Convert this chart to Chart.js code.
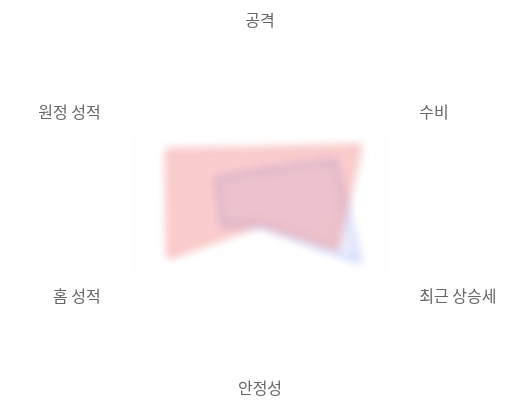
<!DOCTYPE html>
<html lang="ko">
<head>
<meta charset="utf-8">
<title>팀 분석</title>
<script src="https://cdn.jsdelivr.net/npm/chart.js@4/dist/chart.umd.min.js"></script>
<style>
    html, body { margin: 0; padding: 0; background: #fff; }
    .chart-box { width: 520px; height: 400px; position: relative; }
</style>
</head>
<body>
<div class="chart-box">
    <canvas id="teamRadar"></canvas>
</div>
<script>
const categories = ['공격', '수비', '최근 상승세', '안정성', '홈 성적', '원정 성적'];
const homeTeam = [39, 82, 63, 14, 75, 76];
const awayTeam = [24, 62, 82, 15, 31, 36];

// blur the plot, keep the axis labels sharp
const blurPlot = {
    id: 'blurPlot',
    beforeDraw(chart) {
        chart.ctx.filter = 'blur(5px)';
    },
    afterDraw(chart) {
        const ctx = chart.ctx;
        const scale = chart.scales.r;
        ctx.save();
        ctx.filter = 'none';
        ctx.font = '16px "Noto Sans CJK KR", "Noto Sans", sans-serif';
        ctx.fillStyle = '#666';
        ctx.textBaseline = 'middle';
        chart.data.labels.forEach((label, i) => {
            const pos = scale.getPointPosition(i, scale.drawingArea + 44);
            const deg = Math.round((scale.getIndexAngle(i) * 180 / Math.PI) % 360);
            if (deg === 0 || deg === 180) {
                ctx.textAlign = 'center';
            } else if (deg < 180) {
                ctx.textAlign = 'left';
            } else {
                ctx.textAlign = 'right';
            }
            ctx.fillText(label, pos.x, pos.y);
        });
        ctx.restore();
    }
};

const ctx = document.getElementById('teamRadar').getContext('2d');
const teamRadar = new Chart(ctx, {
    type: 'radar',
    data: {
        labels: categories,
        datasets: [{
            label: '홈',
            data: homeTeam,
            borderColor: 'rgba(239, 100, 100, 0.75)',
            backgroundColor: 'rgba(239, 90, 90, 0.3)',
            borderWidth: 2,
            pointRadius: 0
        }, {
            label: '원정',
            data: awayTeam,
            borderColor: 'rgba(120, 140, 240, 0.75)',
            backgroundColor: 'rgba(120, 150, 240, 0.15)',
            borderWidth: 2,
            pointRadius: 0
        }]
    },
    options: {
        responsive: true,
        maintainAspectRatio: false,
        animation: false,
        layout: {
            padding: { top: 64, bottom: 56, left: 0, right: 0 }
        },
        plugins: {
            legend: { display: false },
            tooltip: { enabled: false }
        },
        scales: {
            r: {
                min: 0,
                max: 100,
                ticks: { display: false, stepSize: 25 },
                pointLabels: { display: false },
                grid: { color: 'rgba(0, 0, 0, 0.07)' },
                angleLines: { color: 'rgba(0, 0, 0, 0.07)' }
            }
        }
    },
    plugins: [blurPlot]
});
</script>
</body>
</html>
